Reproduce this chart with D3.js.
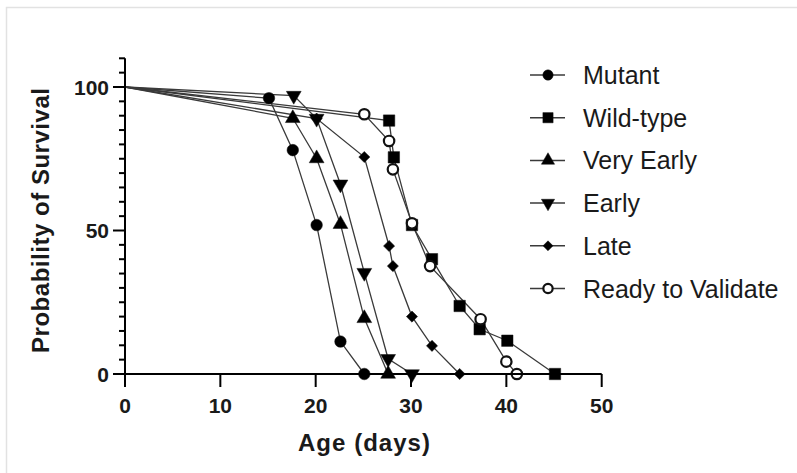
<!DOCTYPE html>
<html>
<head>
<meta charset="utf-8">
<script src="https://cdn.jsdelivr.net/npm/d3@7"></script>
<style>
    body { margin: 0; background: #fff; }
    svg { display: block; font-family: "Liberation Sans", Arial, sans-serif; }
</style>
</head>
<body>
<svg id="chart" width="797" height="473"></svg>
<script>
// Survival data: [day, percent]
const seriesNames = ["Mutant", "Wild-type", "Very Early", "Early", "Late", "Ready to Validate"];
const mutant = [[0, 100], [15.1, 96.1], [17.6, 78], [20.1, 51.9], [22.6, 11.3], [25.1, 0]];
const wildType = [[0, 100], [27.7, 88.3], [28.2, 75.5], [30.1, 51.9], [32.2, 40], [35.1, 23.7], [37.2, 15.6], [40.1, 11.6], [45.1, 0]];
const veryEarly = [[0, 100], [17.6, 89.1], [20.1, 75.1], [22.6, 52.2], [25.1, 19.4], [27.6, 0]];
const early = [[0, 100], [17.7, 97], [20.1, 89], [22.6, 66.1], [25.1, 35.3], [27.6, 5.3], [30.1, 0]];
const late = [[0, 100], [20.1, 89], [25.1, 75.6], [27.7, 44.6], [28.1, 37.6], [30.1, 20], [32.2, 9.8], [35.1, 0]];
const readyToValidate = [[0, 100], [25.1, 90.5], [27.7, 81.2], [28.1, 71.3], [30.1, 52.5], [32, 37.6], [37.3, 19.1], [40, 4.3], [41.1, 0]];
const xTicks = [0, 10, 20, 30, 40, 50];
const yTicks = [0, 50, 100];

const allSeries = [mutant, wildType, veryEarly, early, late, readyToValidate];

const svg = d3.select("#chart");

// light frame round the picture
svg.append("path")
    .attr("d", "M6.5,473 V7.5 H797")
    .attr("fill", "none")
    .attr("stroke", "#e2e2e2")
    .attr("stroke-width", 1.5);

const x = d3.scaleLinear().domain([0, 50]).range([125, 601.7]);
const y = d3.scaleLinear().domain([0, 110]).range([374, 58.3]);

// marker for each series
function marker(sel, i, scale = 1) {
    const types = [
        { type: d3.symbolCircle, size: 105, rot: 0, fill: "#000" },
        { type: d3.symbolSquare, size: 130, rot: 0, fill: "#000" },
        { type: d3.symbolTriangle, size: 95, rot: 0, fill: "#000" },
        { type: d3.symbolTriangle, size: 95, rot: 180, fill: "#000" },
        { type: d3.symbolSquare, size: 62, rot: 45, fill: "#000" },
        { type: d3.symbolCircle, size: 85, rot: 0, fill: "#fff" },
    ];
    const t = types[i];
    sel.append("path")
        .attr("d", d3.symbol().type(t.type).size(t.size * scale)())
        .attr("transform", `rotate(${t.rot})`)
        .attr("fill", t.fill)
        .attr("stroke", "#111")
        .attr("stroke-width", i === 5 ? 2.2 : 0.5);
}

// lines
const line = d3.line().x(d => x(d[0])).y(d => y(d[1]));
svg.append("g")
    .selectAll("path")
    .data(allSeries)
    .join("path")
    .attr("d", line)
    .attr("fill", "none")
    .attr("stroke", "#3a3a3a")
    .attr("stroke-width", 1.3);

// points
allSeries.forEach((series, i) => {
    const g = svg.append("g");
    series.slice(1).forEach(d => {
        const p = g.append("g").attr("transform", `translate(${x(d[0])},${y(d[1])})`);
        marker(p, i);
    });
});

// y axis with minor ticks
const yMinor = d3.range(0, 111, 5);
const yAxis = svg.append("g");
yAxis.append("line")
    .attr("x1", x(0)).attr("x2", x(0))
    .attr("y1", y(110)).attr("y2", y(0))
    .attr("stroke", "#000").attr("stroke-width", 2);
yAxis.selectAll("line.minor")
    .data(yMinor)
    .join("line")
    .attr("class", "minor")
    .attr("x1", d => yTicks.includes(d) ? x(0) - 12 : x(0) - 6)
    .attr("x2", x(0))
    .attr("y1", d => y(d)).attr("y2", d => y(d))
    .attr("stroke", "#000").attr("stroke-width", 2);
yAxis.selectAll("text")
    .data(yTicks)
    .join("text")
    .attr("x", x(0) - 16)
    .attr("y", d => y(d) + 7.5)
    .attr("text-anchor", "end")
    .attr("font-size", 21)
    .attr("font-weight", "bold")
    .attr("fill", "#1a1a1a")
    .text(d => d);

// x axis
const xAxis = svg.append("g");
xAxis.append("line")
    .attr("x1", x(0)).attr("x2", x(50))
    .attr("y1", y(0)).attr("y2", y(0))
    .attr("stroke", "#000").attr("stroke-width", 2);
xAxis.selectAll("line.tick")
    .data(xTicks)
    .join("line")
    .attr("class", "tick")
    .attr("x1", d => x(d)).attr("x2", d => x(d))
    .attr("y1", y(0)).attr("y2", y(0) + 13)
    .attr("stroke", "#000").attr("stroke-width", 2);
xAxis.selectAll("text")
    .data(xTicks)
    .join("text")
    .attr("x", d => x(d))
    .attr("y", 413)
    .attr("text-anchor", "middle")
    .attr("font-size", 21)
    .attr("font-weight", "bold")
    .attr("fill", "#1a1a1a")
    .text(d => d);

// axis titles
svg.append("text")
    .attr("x", 364)
    .attr("y", 451)
    .attr("text-anchor", "middle")
    .attr("font-size", 24)
    .attr("font-weight", "bold")
    .attr("fill", "#1a1a1a")
    .attr("textLength", 132)
    .text("Age (days)");

svg.append("text")
    .attr("transform", "translate(49,220.5) rotate(-90)")
    .attr("text-anchor", "middle")
    .attr("font-size", 24)
    .attr("font-weight", "bold")
    .attr("fill", "#1a1a1a")
    .attr("textLength", 265)
    .text("Probability of Survival");

// legend
const legend = svg.append("g").attr("transform", "translate(530,75)");
seriesNames.forEach((name, i) => {
    const row = legend.append("g").attr("transform", `translate(0,${i * 42.7})`);
    row.append("line")
        .attr("x1", 0).attr("x2", 35)
        .attr("stroke", "#3a3a3a").attr("stroke-width", 1.5);
    const m = row.append("g").attr("transform", "translate(18,0)");
    marker(m, i, 0.8);
    row.append("text")
        .attr("x", 53)
        .attr("y", 9)
        .attr("font-size", 25)
        .attr("fill", "#1a1a1a")
        .text(name);
});
</script>
</body>
</html>
